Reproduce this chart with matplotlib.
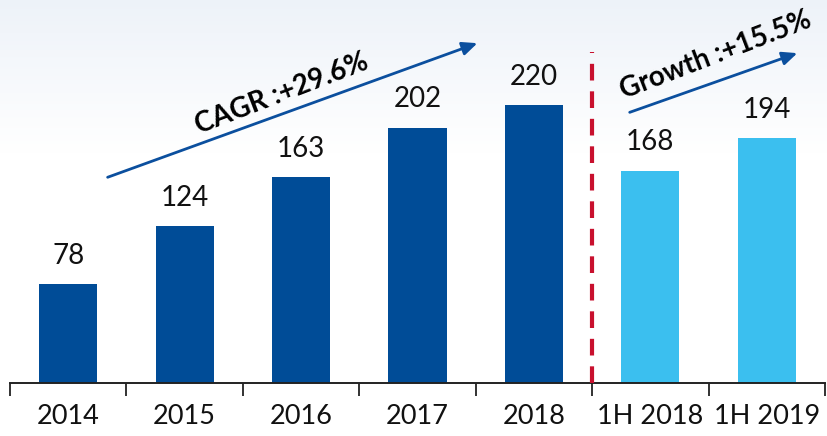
import matplotlib

matplotlib.use("Agg")
import matplotlib.pyplot as plt
import numpy as np

categories = ["2014", "2015", "2016", "2017", "2018", "1H 2018", "1H 2019"]
values = [78, 124, 163, 202, 220, 168, 194]
bar_colors = ["#004C97"] * 5 + ["#3BBFEF"] * 2

plt.rcParams["font.family"] = ["Lato", "DejaVu Sans"]

fig = plt.figure(figsize=(8.27, 4.36), dpi=100)

# faint blue-grey wash at the top of the slide
bg = fig.add_axes([0, 0, 1, 1], zorder=-10)
grad = np.linspace(0, 1, 200).reshape(-1, 1)
grad = np.clip(1 - grad / 0.35, 0, 1)
rgb = np.ones((200, 1, 3))
tint = np.array([0.93, 0.95, 0.975])
rgb = rgb * (1 - grad[..., None]) + tint * grad[..., None]
bg.imshow(rgb, aspect="auto", extent=[0, 1, 0, 1], origin="upper")
bg.axis("off")

ax = fig.add_axes([10 / 827, 53 / 436, 815 / 827, 383 / 436])
ax.patch.set_alpha(0)
x = np.arange(len(categories))
ax.bar(x, values, width=0.5, color=bar_colors, zorder=2)

for xi, v in zip(x, values):
    ax.text(xi, v + 12, str(v), ha="center", va="bottom", fontsize=20, color="#111111")

ax.set_xlim(-0.5, len(categories) - 0.5)
ax.set_ylim(0, 303)
ax.set_yticks([])
ax.set_xticks(x)
ax.set_xticklabels(categories, fontsize=19.5, color="#111111")
ax.set_xticks(np.arange(-0.5, len(categories)), minor=True)
ax.tick_params(axis="x", which="major", length=0, pad=15)
ax.tick_params(axis="x", which="minor", length=9, width=1.3, color="#222222", direction="out")
for side in ["left", "right", "top"]:
    ax.spines[side].set_visible(False)
ax.spines["bottom"].set_color("#222222")
ax.spines["bottom"].set_linewidth(1.4)

# separator between full years and half-years
ax.plot([4.5, 4.5], [0, 262], color="#C8102E", linewidth=3, linestyle=(0, (4, 2.6)), zorder=3)

arrow_kw = dict(arrowstyle="-|>,head_length=0.9,head_width=0.4", color="#0B4F9E", lw=2)
ax.annotate("", xy=(3.537, 269.6), xytext=(0.316, 162), arrowprops=arrow_kw)
ax.annotate("", xy=(6.285, 261.7), xytext=(4.80, 213.4), arrowprops=arrow_kw)

ax.text(1.836, 229, "CAGR :+29.6%", fontsize=20, fontweight="bold", rotation=21,
        ha="center", va="center", rotation_mode="anchor", color="#000000")
ax.text(5.564, 259, "Growth :+15.5%", fontsize=20, fontweight="bold", rotation=21,
        ha="center", va="center", rotation_mode="anchor", color="#000000")

fig.savefig("out.png", dpi=100)
